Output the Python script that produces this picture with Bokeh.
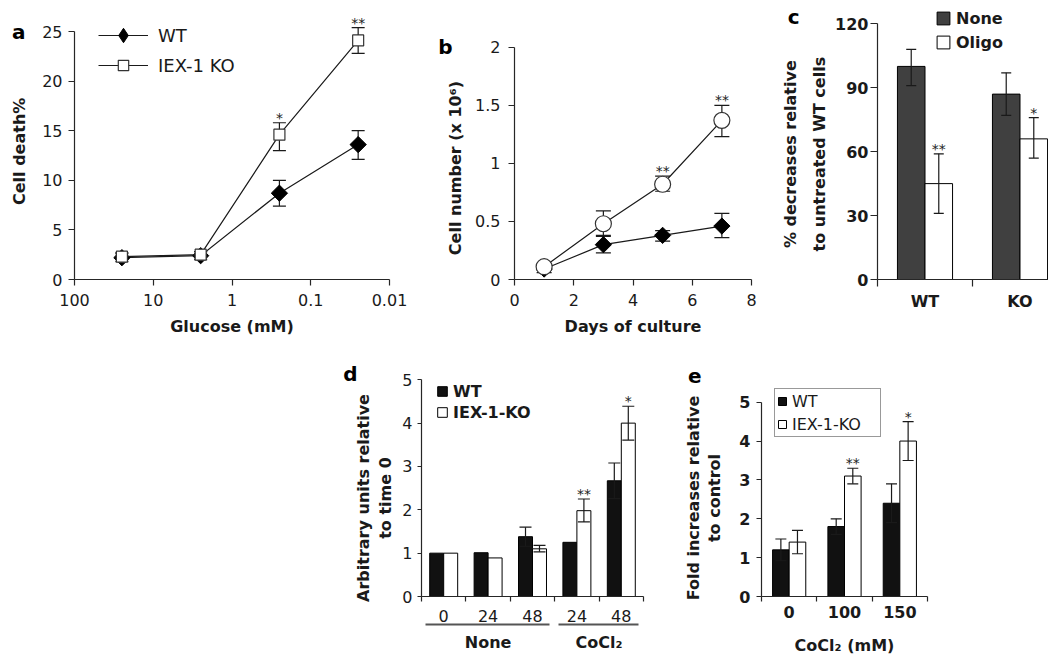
import numpy as np
from bokeh.plotting import figure
from bokeh.models import (ColumnDataSource, Whisker, TeeHead, FixedTicker, Range1d,
                          Legend, LegendItem, LinearAxis, Spacer)
from bokeh.layouts import row, column
from bokeh.embed import file_html
from bokeh.resources import INLINE
from bokeh.core.properties import value

FONT = "DejaVu Sans"
INK = "#1a1a1a"
AXC = "#262626"
NB = "\u00a0"

# ---------------- data ----------------
# panel a: cell death vs glucose
glucose_mM = [25, 2.5, 0.25, 0.025]
a_wt = [2.2, 2.4, 8.7, 13.6]
a_wt_lo = [1.8, 2.0, 7.4, 12.1]
a_wt_hi = [2.7, 2.8, 10.0, 15.0]
a_ko = [2.3, 2.5, 14.6, 24.1]
a_ko_lo = [2.0, 2.2, 13.0, 22.8]
a_ko_hi = [2.6, 2.8, 15.8, 25.4]
a_sig = ["", "", "*", "**"]
a_xticks = [100, 10, 1, 0.1, 0.01]
a_xtick_labels = ["100", "10", "1", "0.1", "0.01"]
a_yticks = [0, 5, 10, 15, 20, 25]

# panel b: cell number vs days
days = [1, 3, 5, 7]
b_wt = [0.09, 0.30, 0.38, 0.46]
b_wt_lo = [0.06, 0.23, 0.33, 0.36]
b_wt_hi = [0.12, 0.37, 0.42, 0.57]
b_ko = [0.11, 0.48, 0.82, 1.37]
b_ko_lo = [0.08, 0.38, 0.76, 1.23]
b_ko_hi = [0.14, 0.59, 0.89, 1.50]
b_sig = ["", "", "**", "**"]
b_xticks = [0, 2, 4, 6, 8]
b_yticks = [0, 0.5, 1, 1.5, 2]
b_ytick_labels = ["0", "0.5", "1", "1.5", "2"]

# panel c: % decreases
c_cells = ["WT", "KO"]
c_none = [100, 87]
c_none_lo = [91, 77]
c_none_hi = [108, 97]
c_oligo = [45, 66]
c_oligo_lo = [31, 57]
c_oligo_hi = [59, 76]
c_sig = ["**", "*"]
c_yticks = [0, 30, 60, 90, 120]

# panel d: arbitrary units relative to time 0
d_hours = ["0", "24", "48", "24", "48"]
d_treatment = ["None", "None", "None", "CoCl\u2082", "CoCl\u2082"]
d_wt = [1.00, 1.01, 1.38, 1.25, 2.67]
d_wt_hi = [None, None, 1.60, None, 3.08]
d_ko = [1.00, 0.89, 1.10, 1.98, 4.00]
d_ko_lo = [None, None, 1.03, 1.72, 3.61]
d_ko_hi = [None, None, 1.18, 2.25, 4.39]
d_sig = ["", "", "", "**", "*"]
d_yticks = [0, 1, 2, 3, 4, 5]

# panel e: fold increases relative to control
e_cocl2 = ["0", "100", "150"]
e_wt = [1.2, 1.8, 2.4]
e_wt_hi = [1.48, 2.0, 2.9]
e_ko = [1.4, 3.1, 4.0]
e_ko_lo = [1.1, 2.9, 3.5]
e_ko_hi = [1.7, 3.3, 4.5]
e_sig = ["", "**", "*"]
e_yticks = [0, 1, 2, 3, 4, 5]


# ---------------- helpers ----------------
def base_fig(width, height, left, right, top, bottom, x_range, y_range, x_axis_type="linear"):
    p = figure(width=width, height=height, x_range=x_range, y_range=y_range,
               x_axis_type=x_axis_type, output_backend="svg", toolbar_location=None,
               min_border_left=left, min_border_right=right,
               min_border_top=top, min_border_bottom=bottom)
    p.outline_line_color = None
    p.xgrid.visible = False
    p.ygrid.visible = False
    p.background_fill_color = "white"
    p.border_fill_color = "white"
    for ax in p.axis:
        ax.axis_line_color = AXC
        ax.axis_line_width = 1.2
        ax.major_tick_line_color = AXC
        ax.major_tick_line_width = 1.2
        ax.minor_tick_line_color = None
        ax.major_tick_in = 0
        ax.major_tick_out = 6
        ax.major_label_text_font = FONT
        ax.major_label_text_font_size = "16px"
        ax.major_label_text_color = INK
        ax.axis_label_text_font = FONT
        ax.axis_label_text_font_size = "16px"
        ax.axis_label_text_font_style = "bold"
        ax.axis_label_text_color = INK
    return p


def ylabel(lines, pad):
    # pad: trailing no-break spaces that push the centred title down along the axis
    return "\n".join(l + NB * pad for l in lines)


def errbars(p, xs, lo, hi, cap, level="annotation"):
    keep = [i for i in range(len(xs)) if lo[i] is not None and hi[i] is not None]
    src = ColumnDataSource(dict(base=[xs[i] for i in keep],
                                lower=[lo[i] for i in keep],
                                upper=[hi[i] for i in keep]))
    w = Whisker(source=src, base="base", lower="lower", upper="upper", dimension="height",
                line_color=INK, line_width=1.2, level=level,
                upper_head=TeeHead(size=cap, line_color=INK, line_width=1.2),
                lower_head=TeeHead(size=cap, line_color=INK, line_width=1.2))
    p.add_layout(w)


def stars(p, xs, tops, labels, offset=3):
    keep = [i for i in range(len(xs)) if labels[i]]
    src = ColumnDataSource(dict(x=[xs[i] for i in keep], y=[tops[i] for i in keep],
                                t=[labels[i] for i in keep]))
    p.text(x="x", y="y", text="t", source=src, text_font=value(FONT),
           text_font_size="14px", text_align="center", text_baseline="bottom",
           y_offset=offset, text_color="#222222")


def panel_letter(p, txt, yval, standoff):
    # panel letter drawn as the single tick label of an extra, line-less left axis
    ax = LinearAxis(ticker=FixedTicker(ticks=[yval], minor_ticks=[]),
                    major_label_overrides={yval: txt},
                    axis_line_color=None, major_tick_line_color=None,
                    minor_tick_line_color=None, major_tick_in=0, major_tick_out=0,
                    major_label_standoff=standoff, major_label_text_font=FONT,
                    major_label_text_font_style="bold", major_label_text_font_size="20px",
                    major_label_text_color="black")
    p.add_layout(ax, "left")


def legend(items, loc, gw, gh, size="16px", style="normal", **kw):
    opts = dict(location=loc, glyph_width=gw, glyph_height=gh, label_height=gh,
                label_standoff=5, spacing=0, padding=0, margin=0,
                label_text_font=FONT, label_text_font_size=size, label_text_font_style=style,
                label_text_color=INK, border_line_color=None, background_fill_alpha=0)
    opts.update(kw)
    return Legend(items=[LegendItem(label=l, renderers=r) for l, r in items], **opts)


H1, H2 = 345, 315
TOP1, BOT1 = 6, 279          # shared frame top / bottom of upper row (page px)
TOP2, BOT2 = 360, 596        # shared frame top / bottom of lower row (page px)

# ---------------- panel a ----------------
a_ppu = (BOT1 - 31) / 25.0
fa = base_fig(420, H1, 74, 31, TOP1, H1 - BOT1, Range1d(100, 0.01),
              Range1d(0, (BOT1 - TOP1) / a_ppu), x_axis_type="log")
fa.xaxis.ticker = FixedTicker(ticks=a_xticks, minor_ticks=[])
fa.xaxis.major_label_overrides = {t: l for t, l in zip(a_xticks, a_xtick_labels)}
fa.yaxis.ticker = FixedTicker(ticks=a_yticks, minor_ticks=[])
fa.yaxis.bounds = (0, 25)
fa.xaxis.axis_label = "Glucose (mM)"
fa.yaxis.axis_label = ylabel(["Cell death%"], 3)
fa.xaxis.major_label_standoff = 8
fa.xaxis.axis_label_standoff = 8
fa.yaxis.major_label_standoff = 6
fa.yaxis.axis_label_standoff = 10
errbars(fa, glucose_mM, a_wt_lo, a_wt_hi, 13, level="underlay")
errbars(fa, glucose_mM, a_ko_lo, a_ko_hi, 13, level="underlay")
l_wt = fa.line(glucose_mM, a_wt, line_color=INK, line_width=1.2)
# diamond marker (used as legend key) lies fully under the rotated-square marker
m_wt_key = fa.scatter(glucose_mM, a_wt, marker="diamond", size=15,
                      fill_color="black", line_color="black")
m_wt = fa.scatter(glucose_mM, a_wt, marker="square", angle=np.pi / 4, size=11.5,
                  fill_color="black", line_color="black")
l_ko = fa.line(glucose_mM, a_ko, line_color=INK, line_width=1.2)
m_ko = fa.scatter(glucose_mM, a_ko, marker="square", size=11, fill_color="white",
                  line_color="#333333", line_width=1.2)
stars(fa, glucose_mM, a_ko_hi, a_sig)
fa.add_layout(legend([("WT", [l_wt, m_wt_key])], (24, BOT1 - 53), 50, 36, "18px", label_standoff=10))
fa.add_layout(legend([("IEX-1 KO", [l_ko, m_ko])], (24, BOT1 - 78), 50, 26, "18px", label_standoff=10))
panel_letter(fa, "a", 25, -18)

# ---------------- panel b ----------------
b_ppu = (BOT1 - 46.7) / 2.0
fb = base_fig(348, H1, 94, 17, TOP1, H1 - BOT1, Range1d(0, 8),
              Range1d(0, (BOT1 - TOP1) / b_ppu))
fb.xaxis.ticker = FixedTicker(ticks=b_xticks, minor_ticks=[])
fb.yaxis.ticker = FixedTicker(ticks=b_yticks, minor_ticks=[])
fb.yaxis.bounds = (0, 2)
fb.yaxis.major_label_overrides = {t: l for t, l in zip(b_yticks, b_ytick_labels)}
fb.xaxis.axis_label = "Days of culture"
fb.yaxis.axis_label = ylabel(["Cell number (x 10\u2076)"], 9)
fb.xaxis.major_label_standoff = 8
fb.xaxis.axis_label_standoff = 8
fb.yaxis.major_label_standoff = 8
fb.yaxis.axis_label_standoff = 7
errbars(fb, days, b_wt_lo, b_wt_hi, 15, level="underlay")
errbars(fb, days, b_ko_lo, b_ko_hi, 15, level="underlay")
fb.line(days, b_wt, line_color=INK, line_width=1.2)
fb.scatter(days, b_wt, marker="square", angle=np.pi / 4, size=11.5,
           fill_color="black", line_color="black")
fb.line(days, b_ko, line_color=INK, line_width=1.2)
fb.scatter(days, b_ko, marker="circle", size=16, fill_color="white",
           line_color="#333333", line_width=1.2)
stars(fb, days, b_ko_hi, b_sig)
panel_letter(fb, "b", 2, -9)

# ---------------- panel c ----------------
c_ppu = (BOT1 - 23.3) / 120.0
fc = base_fig(280, H1, 109, 0, TOP1, H1 - BOT1, Range1d(0, 1.8),
              Range1d(0, (BOT1 - TOP1) / c_ppu))
c_pos = [i + 0.5 for i in range(len(c_cells))]
fc.xaxis.ticker = FixedTicker(ticks=c_pos, minor_ticks=list(range(len(c_cells) + 1)))
fc.xaxis.major_label_overrides = {t: l for t, l in zip(c_pos, c_cells)}
fc.xaxis.major_tick_line_color = None
fc.xaxis.major_tick_out = 7
fc.xaxis.minor_tick_line_color = AXC
fc.xaxis.minor_tick_line_width = 1.2
fc.xaxis.minor_tick_in = 0
fc.xaxis.minor_tick_out = 7
fc.xaxis.major_label_standoff = 5
fc.yaxis.ticker = FixedTicker(ticks=c_yticks, minor_ticks=[])
fc.yaxis.bounds = (0, 120)
fc.yaxis.major_tick_out = 7
fc.yaxis.major_label_standoff = 2
fc.yaxis.axis_label_standoff = 3
fc.yaxis.axis_label = ylabel(["% decreases relative", "to untreated WT cells"], 4)
fc.yaxis.axis_label_text_line_height = 1.55
for ax in fc.axis:
    ax.major_label_text_font_style = "bold"
cw = 0.29
c_x_none = [x - cw / 2 for x in c_pos]
c_x_oligo = [x + cw / 2 for x in c_pos]
r_none = fc.vbar(x=c_x_none, top=c_none, width=cw, fill_color="#404040", line_color="black", line_width=1)
r_oligo = fc.vbar(x=c_x_oligo, top=c_oligo, width=cw, fill_color="white", line_color="black", line_width=1)
errbars(fc, c_x_none, c_none_lo, c_none_hi, 10)
errbars(fc, c_x_oligo, c_oligo_lo, c_oligo_hi, 10)
stars(fc, c_x_oligo, c_oligo_hi, c_sig)
fc.add_layout(legend([("None", [r_none]), ("Oligo", [r_oligo])], (58, BOT1 - 52), 16, 16,
                     style="bold", label_height=20, spacing=4))
panel_letter(fc, "c", 123, -22)

# ---------------- panel d ----------------
d_ppu = (BOT2 - 379.3) / 5.0
fd = base_fig(345, H2, 86, 37, TOP2 - H1, H1 + H2 - BOT2, Range1d(0, 5),
              Range1d(0, (BOT2 - TOP2) / d_ppu))
d_pos = [i + 0.5 for i in range(len(d_hours))]
fd.xaxis.ticker = FixedTicker(ticks=d_pos, minor_ticks=list(range(len(d_hours) + 1)))
fd.xaxis.major_label_overrides = {t: l for t, l in zip(d_pos, d_hours)}
fd.xaxis.major_tick_line_color = None
fd.xaxis.major_tick_out = 5
fd.xaxis.minor_tick_line_color = AXC
fd.xaxis.minor_tick_line_width = 1.2
fd.xaxis.minor_tick_in = 0
fd.xaxis.minor_tick_out = 5
fd.xaxis.major_label_standoff = 8
fd.yaxis.ticker = FixedTicker(ticks=d_yticks, minor_ticks=[])
fd.yaxis.bounds = (0, 5)
fd.yaxis.major_tick_out = 4
fd.yaxis.major_label_standoff = 5
fd.yaxis.axis_label_standoff = 4
fd.yaxis.axis_label = ylabel(["Arbitrary units relative", "to time 0"], 7)
fd.yaxis.axis_label_text_line_height = 1.2
dw = 0.315
d_x_wt = [x - dw / 2 for x in d_pos]
d_x_ko = [x + dw / 2 for x in d_pos]
r_dwt = fd.vbar(x=d_x_wt, top=d_wt, width=dw, fill_color="#111111", line_color="black", line_width=1)
r_dko = fd.vbar(x=d_x_ko, top=d_ko, width=dw, fill_color="white", line_color="black", line_width=1)
d_wt_lo = [None if h is None else 2 * v - h for v, h in zip(d_wt, d_wt_hi)]
errbars(fd, d_x_wt, d_wt_lo, d_wt_hi, 12)
errbars(fd, d_x_ko, d_ko_lo, d_ko_hi, 12)
stars(fd, d_x_ko, d_ko_hi, d_sig)
# treatment groups: a second axis under the hour labels, its line broken per group
groups = []
for i, g in enumerate(d_treatment):
    if not groups or groups[-1][0] != g:
        groups.append([g, i, i])
    else:
        groups[-1][2] = i
inset = 0.1
g_centers = [(i0 + i1 + 1) / 2 for _, i0, i1 in groups]
g_ranges = [(i0 + inset, i1 + 1 - inset) for _, i0, i1 in groups]
d_frame_ppu = (345 - 86 - 37) / 5.0
dash = []
for k, (s, e) in enumerate(g_ranges):
    dash.append(round((e - s) * d_frame_ppu))
    nxt = g_ranges[k + 1][0] if k + 1 < len(g_ranges) else e + 3
    dash.append(round((nxt - e) * d_frame_ppu))
gaxis = LinearAxis(ticker=FixedTicker(ticks=g_centers, minor_ticks=[]),
                   major_label_overrides={c: g for c, (g, _, _) in zip(g_centers, groups)},
                   bounds=(g_ranges[0][0], g_ranges[-1][1]),
                   axis_line_color="#555555", axis_line_width=2,
                   axis_line_dash=" ".join(str(v) for v in dash),
                   major_tick_line_color=None, minor_tick_line_color=None,
                   major_tick_in=0, major_tick_out=0, major_label_standoff=8,
                   major_label_text_font=FONT, major_label_text_font_size="16px",
                   major_label_text_font_style="bold", major_label_text_color=INK)
fd.add_layout(gaxis, "below")
fd.add_layout(legend([("WT", [r_dwt]), ("IEX-1-KO", [r_dko])], (15, BOT2 - 422), 12, 12,
                     style="bold", label_height=20, spacing=1))
panel_letter(fd, "d", 5.13, -7)

# ---------------- panel e ----------------
e_ppu = (BOT2 - 401.7) / 5.0
fe = base_fig(300, H2, 81, 53, TOP2 - H1, H1 + H2 - BOT2, Range1d(0, 3),
              Range1d(0, (BOT2 - TOP2) / e_ppu))
e_pos = [i + 0.5 for i in range(len(e_cocl2))]
fe.xaxis.ticker = FixedTicker(ticks=e_pos, minor_ticks=list(range(len(e_cocl2) + 1)))
fe.xaxis.major_label_overrides = {t: l for t, l in zip(e_pos, e_cocl2)}
fe.xaxis.major_tick_line_color = None
fe.xaxis.major_tick_out = 5
fe.xaxis.minor_tick_line_color = AXC
fe.xaxis.minor_tick_line_width = 1.2
fe.xaxis.minor_tick_in = 0
fe.xaxis.minor_tick_out = 5
fe.xaxis.major_label_standoff = 4
fe.xaxis.axis_label = "CoCl\u2082 (mM)"
fe.xaxis.axis_label_standoff = 15
fe.yaxis.ticker = FixedTicker(ticks=e_yticks, minor_ticks=[])
fe.yaxis.bounds = (0, 5)
fe.yaxis.major_tick_out = 5
fe.yaxis.major_label_standoff = 6
fe.yaxis.axis_label_standoff = 12
fe.yaxis.axis_label = ylabel(["Fold increases relative", "to control"], 7)
fe.yaxis.axis_label_text_line_height = 1.15
for ax in fe.axis:
    ax.major_label_text_font_style = "bold"
ew = 0.3
e_x_wt = [x - ew / 2 for x in e_pos]
e_x_ko = [x + ew / 2 for x in e_pos]
r_ewt = fe.vbar(x=e_x_wt, top=e_wt, width=ew, fill_color="#111111", line_color="black", line_width=1)
r_eko = fe.vbar(x=e_x_ko, top=e_ko, width=ew, fill_color="white", line_color="black", line_width=1)
e_wt_lo = [2 * v - h for v, h in zip(e_wt, e_wt_hi)]
errbars(fe, e_x_wt, e_wt_lo, e_wt_hi, 11)
errbars(fe, e_x_ko, e_ko_lo, e_ko_hi, 11)
stars(fe, e_x_ko, e_ko_hi, e_sig)
fe.add_layout(legend([("WT", [r_ewt]), ("IEX-1-KO", [r_eko])], (13, BOT2 - 437), 10, 10,
                     label_height=20, label_width=86, spacing=3, padding=2,
                     border_line_color="#333333", border_line_width=1.2,
                     background_fill_color="white", background_fill_alpha=1))
panel_letter(fe, "e", 5.67, -21)

layout = column(row(fa, fb, fc), row(Spacer(width=335, height=H2), fd, fe))
open("out.html", "w").write(file_html(layout, INLINE))
